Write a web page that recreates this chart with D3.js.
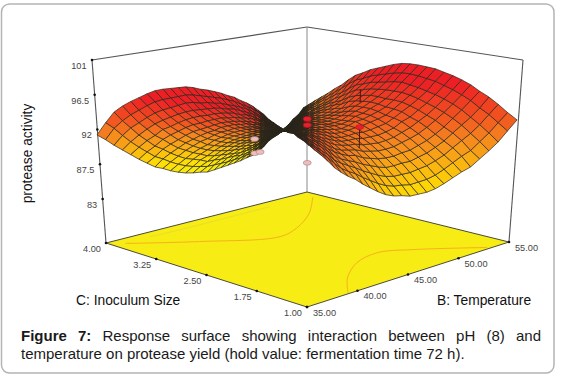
<!DOCTYPE html>
<html>
<head>
<meta charset="utf-8">
<script src="https://cdn.jsdelivr.net/npm/d3@7"></script>
<style>
  html, body { margin: 0; padding: 0; background: #fff; }
  svg { display: block; font-family: "Liberation Sans", Arial, sans-serif; }
</style>
</head>
<body>
<svg id="chart" width="561" height="375"></svg>
<script>
// Axis ticks
var zTicks = [83, 87.5, 92, 96.5, 101];
var zTickLabels = ['83', '87.5', '92', '96.5', '101'];
var tempTicks = [35, 40, 45, 50, 55];
var tempTickLabels = ['35.00', '40.00', '45.00', '50.00', '55.00'];
var sizeTicks = [1, 1.75, 2.5, 3.25, 4];
var sizeTickLabels = ['1.00', '1.75', '2.50', '3.25', '4.00'];

// Protease activity on the 31x31 response grid.
// One row per line of constant (temperature step - inoculum step), from -30 to 30.
// Each row runs from the front edge of the grid to the back edge.
var surfaceZ = [
  [91.3],
  [93.1,90.5],
  [94.7,92.2,89.6],
  [95.7,93.4,91.1,88.8],
  [96.5,94.4,92.3,90.1,88.0],
  [97.2,95.2,93.2,91.2,89.2,87.2],
  [97.9,96.0,94.1,92.2,90.3,88.4,86.5],
  [98.5,96.7,94.9,93.1,91.2,89.4,87.6,85.8],
  [98.9,97.2,95.5,93.8,92.2,90.5,88.8,87.1,85.4],
  [99.2,97.6,96.0,94.4,92.8,91.3,89.7,88.1,86.5,84.9],
  [99.5,98.0,96.5,95.0,93.5,92.0,90.5,89.0,87.5,86.0,84.5],
  [99.8,98.4,97.0,95.5,94.1,92.7,91.3,89.9,88.5,87.0,85.6,84.2],
  [99.9,98.6,97.3,95.9,94.6,93.3,92.0,90.6,89.3,88.0,86.7,85.3,84.0],
  [99.9,98.7,97.4,96.2,95.0,93.7,92.5,91.3,90.1,88.8,87.6,86.4,85.1,83.9],
  [100.0,98.8,97.7,96.5,95.3,94.2,93.0,91.9,90.7,89.5,88.4,87.2,86.0,84.9,83.7],
  [100.0,98.9,97.8,96.8,95.7,94.6,93.5,92.4,91.4,90.3,89.2,88.1,87.0,86.0,84.9,83.8],
  [100.0,99.0,98.0,97.0,96.0,95.0,94.0,93.0,92.0,90.9,89.9,88.9,87.9,86.9,85.9,84.9,83.9],
  [99.9,99.0,98.0,97.1,96.2,95.2,94.3,93.4,92.4,91.5,90.6,89.6,88.7,87.7,86.8,85.9,84.9,84.0],
  [99.9,99.0,98.1,97.3,96.4,95.5,94.6,93.8,92.9,92.0,91.1,90.2,89.4,88.5,87.6,86.7,85.9,85.0,84.1],
  [99.7,98.9,98.1,97.3,96.4,95.6,94.8,94.0,93.2,92.4,91.5,90.7,89.9,89.1,88.3,87.5,86.6,85.8,85.0,84.2],
  [99.6,98.8,98.1,97.3,96.6,95.8,95.0,94.3,93.5,92.8,92.0,91.2,90.5,89.7,89.0,88.2,87.4,86.7,85.9,85.2,84.4],
  [99.4,98.7,98.0,97.3,96.6,95.9,95.1,94.4,93.7,93.0,92.3,91.6,90.9,90.2,89.5,88.8,88.0,87.3,86.6,85.9,85.2,84.5],
  [99.1,98.5,97.8,97.2,96.5,95.9,95.2,94.6,93.9,93.3,92.6,92.0,91.3,90.6,90.0,89.3,88.7,88.0,87.4,86.7,86.1,85.4,84.8],
  [98.8,98.2,97.6,97.0,96.5,95.9,95.3,94.7,94.1,93.5,92.9,92.3,91.8,91.2,90.6,90.0,89.4,88.8,88.2,87.6,87.1,86.5,85.9,85.3],
  [98.4,97.9,97.4,96.8,96.3,95.8,95.3,94.8,94.2,93.7,93.2,92.7,92.2,91.6,91.1,90.6,90.1,89.5,89.0,88.5,88.0,87.5,86.9,86.4,85.9],
  [98.2,97.7,97.2,96.8,96.3,95.8,95.3,94.8,94.4,93.9,93.4,92.9,92.4,92.0,91.5,91.0,90.5,90.0,89.6,89.1,88.6,88.1,87.6,87.2,86.7,86.2],
  [98.0,97.6,97.1,96.7,96.2,95.8,95.3,94.9,94.4,94.0,93.5,93.1,92.6,92.2,91.8,91.3,90.9,90.4,90.0,89.5,89.1,88.6,88.2,87.7,87.3,86.8,86.4],
  [97.9,97.5,97.1,96.6,96.2,95.8,95.4,95.0,94.6,94.1,93.7,93.3,92.9,92.5,92.0,91.6,91.2,90.8,90.4,90.0,89.5,89.1,88.7,88.3,87.9,87.4,87.0,86.6],
  [97.9,97.5,97.1,96.7,96.3,95.9,95.5,95.1,94.7,94.3,93.9,93.5,93.1,92.7,92.3,91.8,91.4,91.0,90.6,90.2,89.8,89.4,89.0,88.6,88.2,87.8,87.4,87.0,86.6],
  [98.0,97.6,97.2,96.8,96.4,96.1,95.7,95.3,94.9,94.5,94.1,93.7,93.3,92.9,92.5,92.2,91.8,91.4,91.0,90.6,90.2,89.8,89.4,89.0,88.6,88.3,87.9,87.5,87.1,86.7],
  [98.0,97.6,97.3,96.9,96.5,96.2,95.8,95.4,95.1,94.7,94.3,94.0,93.6,93.2,92.9,92.5,92.1,91.8,91.4,91.0,90.7,90.3,89.9,89.6,89.2,88.8,88.5,88.1,87.7,87.4,87.0],
  [97.7,97.4,97.0,96.7,96.4,96.0,95.7,95.4,95.0,94.7,94.4,94.0,93.7,93.4,93.0,92.7,92.4,92.0,91.7,91.4,91.0,90.7,90.3,90.0,89.7,89.3,89.0,88.7,88.3,88.0],
  [97.0,96.7,96.4,96.1,95.8,95.5,95.2,95.0,94.7,94.4,94.1,93.8,93.5,93.2,92.9,92.6,92.3,92.0,91.7,91.4,91.1,90.8,90.6,90.3,90.0,89.7,89.4,89.1,88.8],
  [96.4,96.2,95.9,95.7,95.5,95.2,95.0,94.7,94.5,94.3,94.0,93.8,93.6,93.3,93.1,92.8,92.6,92.4,92.1,91.9,91.7,91.4,91.2,90.9,90.7,90.5,90.2,90.0],
  [95.6,95.4,95.2,95.0,94.8,94.7,94.5,94.3,94.1,93.9,93.7,93.5,93.3,93.2,93.0,92.8,92.6,92.4,92.2,92.0,91.8,91.6,91.5,91.3,91.1,90.9,90.7],
  [94.8,94.7,94.5,94.4,94.3,94.1,94.0,93.8,93.7,93.6,93.4,93.3,93.2,93.0,92.9,92.8,92.6,92.5,92.4,92.2,92.1,91.9,91.8,91.7,91.5,91.4],
  [94.0,93.9,93.8,93.8,93.7,93.6,93.5,93.4,93.4,93.3,93.2,93.1,93.1,93.0,92.9,92.8,92.7,92.7,92.6,92.5,92.4,92.3,92.3,92.2,92.1],
  [93.1,93.1,93.1,93.1,93.0,93.0,93.0,93.0,93.0,93.0,93.0,93.0,92.9,92.9,92.9,92.9,92.9,92.9,92.9,92.9,92.8,92.8,92.8,92.8],
  [92.1,92.2,92.2,92.3,92.4,92.4,92.5,92.6,92.6,92.7,92.8,92.9,92.9,93.0,93.1,93.1,93.2,93.3,93.3,93.4,93.5,93.5,93.6],
  [91.3,91.4,91.6,91.7,91.9,92.0,92.2,92.3,92.4,92.6,92.7,92.9,93.0,93.2,93.3,93.4,93.6,93.7,93.9,94.0,94.2,94.3],
  [90.6,90.8,91.1,91.3,91.5,91.8,92.0,92.2,92.4,92.7,92.9,93.1,93.4,93.6,93.8,94.1,94.3,94.5,94.7,95.0,95.2],
  [90.0,90.3,90.6,90.9,91.3,91.6,91.9,92.2,92.5,92.8,93.2,93.5,93.8,94.1,94.4,94.7,95.1,95.4,95.7,96.0],
  [89.2,89.6,90.0,90.4,90.8,91.2,91.6,92.0,92.4,92.9,93.3,93.7,94.1,94.5,94.9,95.3,95.7,96.1,96.5],
  [88.5,89.0,89.5,90.0,90.5,91.0,91.5,92.0,92.5,93.1,93.6,94.1,94.6,95.1,95.6,96.1,96.6,97.1],
  [87.8,88.4,89.0,89.6,90.2,90.8,91.4,92.0,92.7,93.3,93.9,94.5,95.1,95.7,96.3,96.9,97.5],
  [87.2,87.9,88.6,89.3,90.1,90.8,91.5,92.2,92.9,93.6,94.3,95.0,95.8,96.5,97.2,97.9],
  [86.8,87.6,88.4,89.3,90.1,90.9,91.7,92.5,93.4,94.2,95.0,95.8,96.7,97.5,98.3],
  [86.6,87.5,88.4,89.4,90.3,91.2,92.1,93.1,94.0,94.9,95.8,96.8,97.7,98.6],
  [86.3,87.3,88.4,89.4,90.4,91.5,92.5,93.5,94.6,95.6,96.6,97.7,98.7],
  [86.3,87.4,88.6,89.7,90.8,91.9,93.1,94.2,95.3,96.4,97.6,98.7],
  [86.3,87.5,88.8,90.0,91.2,92.5,93.7,94.9,96.1,97.4,98.6],
  [86.5,87.8,89.2,90.5,91.8,93.2,94.5,95.8,97.2,98.5],
  [86.9,88.3,89.7,91.1,92.5,94.0,95.4,96.8,98.2],
  [87.4,88.9,90.4,91.9,93.4,94.9,96.4,97.9],
  [87.9,89.5,91.1,92.7,94.3,95.9,97.5],
  [88.3,90.0,91.8,93.5,95.3,97.0],
  [89.1,90.9,92.7,94.5,96.3],
  [89.9,91.8,93.8,95.7],
  [90.8,92.9,94.9],
  [92.0,94.0],
  [93.2]
];

// Design points: temperature, inoculum size, actual and predicted activity
var pointTemp = [40, 40, 40.5, 45, 45, 45, 50, 50];
var pointSize = [2.5, 2.5, 2.5, 2.5, 2.5, 2.5, 2.5, 2.5];
var pointActual = [92.7, 90.9, 90.9, 93.8, 93.0, 88.1, 91.2, 96.2];
var pointPredicted = [92.7, 90.9, 90.9, 93.8, 93.0, 88.1, 88.4, 94.5];
var pointAbove = [false, false, false, true, true, false, true, null];

// Contours on the floor, as [temperature, inoculum size]
var contourA = [[36, 3.86], [40.3, 3.4], [45.3, 2.95], [47.7, 3.06], [51, 3.37], [54.3, 3.81]];
var contourB = [[53.1, 1.04], [49.4, 1.59], [47.2, 1.79], [44.5, 1.69], [41.6, 1.39], [39.2, 1.02]];
var contourC = [[38.5, 3.87], [41.7, 3.85], [46.6, 3.85], [50.3, 3.85]];

var colorStops = [83.5, 86.5, 91.3, 93.2, 97];
var colorRange = ['#f4f014', '#fedc04', '#f5861f', '#f25a1f', '#ee1f24'];

var svg = d3.select('#chart');

var gridSteps = 30;
var foldStep = -2;
var foldX = 283;

// Box corners on screen: x and y for front, right, left, back
var floorCorners = { front: [307, 307], right: [509, 242], left: [106, 243], back: [307, 192] };
var topCorners = { front: [307, 107], right: [523, 60], left: [92, 60], back: [307, 27] };

var tempScale = d3.scaleLinear().domain([35, 55]).range([0, 1]);
var sizeScale = d3.scaleLinear().domain([1, 4]).range([0, 1]);
var zScale = d3.scaleLinear().domain([77.3, 101]).range([0, 1]);
var color = d3.scaleLinear().domain(colorStops).range(colorRange).clamp(true);

// The surface bunches up toward the fold in the middle
var rightX = d3.scalePow().exponent(1.3).domain([0, 32]).range([0, 234]);
var leftX = d3.scalePow().exponent(1.3).domain([0, 28]).range([0, 186]);

// Mesh lines merge into black at the fold
var meshWidth = d3.scaleLinear().domain([0, 8]).range([1.7, 0.7]).clamp(true);

function bilinear(corners, u, v, axis) {
    return corners.front[axis] * (1 - u) * (1 - v) + corners.right[axis] * u * (1 - v) +
        corners.left[axis] * (1 - u) * v + corners.back[axis] * u * v;
}

function project(u, v, z) {
    var t = zScale(z);
    return [
        bilinear(floorCorners, u, v, 0) * (1 - t) + bilinear(topCorners, u, v, 0) * t,
        bilinear(floorCorners, u, v, 1) * (1 - t) + bilinear(topCorners, u, v, 1) * t
    ];
}

function nodeZ(i, j) {
    return surfaceZ[i - j + gridSteps][Math.min(i, j)];
}

function nodePoint(i, j) {
    var step = i - j - foldStep;
    var x = step >= 0 ? foldX + rightX(step) : foldX - leftX(-step);
    return [x, project(i / gridSteps, j / gridSteps, nodeZ(i, j))[1]];
}

var line = d3.line();
var zFloor = zScale.domain()[0];
var zTop = zScale.domain()[1];

// Card
svg.append('rect')
    .attr('x', 1.5)
    .attr('y', 4)
    .attr('width', 552.5)
    .attr('height', 369)
    .attr('rx', 8)
    .attr('fill', '#fff')
    .attr('stroke', '#b4b4b4')
    .attr('stroke-width', 1.5);

// Back walls
var frameLines = [
    [project(0, 1, zTop), project(1, 1, zTop)],
    [project(1, 1, zTop), project(1, 0, zTop)],
    [project(0, 1, zFloor), project(0, 1, zTop)],
    [project(1, 0, zFloor), project(1, 0, zTop)]
];
svg.selectAll('.frame')
    .data(frameLines)
    .enter()
    .append('path')
    .attr('class', 'frame')
    .attr('d', line)
    .attr('fill', 'none')
    .attr('stroke', '#555')
    .attr('stroke-width', 1.1);

svg.append('path')
    .attr('d', line([project(1, 1, zFloor), project(1, 1, zTop)]))
    .attr('stroke', '#8a8a8a')
    .attr('stroke-width', 1);

// Floor with the contours
svg.append('path')
    .attr('d', line([project(0, 0, zFloor), project(1, 0, zFloor), project(1, 1, zFloor), project(0, 1, zFloor)]) + 'Z')
    .attr('fill', '#f7ec13')
    .attr('stroke', '#4a4a3a')
    .attr('stroke-width', 1);

var contourLine = d3.line()
    .x(function(d) { return project(tempScale(d[0]), sizeScale(d[1]), zFloor)[0]; })
    .y(function(d) { return project(tempScale(d[0]), sizeScale(d[1]), zFloor)[1]; })
    .curve(d3.curveCatmullRom);

svg.selectAll('.contour')
    .data([contourA, contourB, contourC])
    .enter()
    .append('path')
    .attr('class', 'contour')
    .attr('d', contourLine)
    .attr('fill', 'none')
    .attr('stroke', function(d, i) { return i === 2 ? '#e6df2a' : '#f6b21c'; })
    .attr('stroke-width', 1);

// Surface cells
var cells = [];
d3.range(gridSteps).forEach(function(i) {
    d3.range(gridSteps).forEach(function(j) {
        cells.push({
            corners: [nodePoint(i, j), nodePoint(i + 1, j), nodePoint(i + 1, j + 1), nodePoint(i, j + 1)],
            z: (nodeZ(i, j) + nodeZ(i + 1, j) + nodeZ(i + 1, j + 1) + nodeZ(i, j + 1)) / 4,
            fold: Math.abs(i - j - foldStep)
        });
    });
});

svg.selectAll('.cell')
    .data(cells)
    .enter()
    .append('path')
    .attr('class', 'cell')
    .attr('d', function(d) { return line(d.corners) + 'Z'; })
    .attr('fill', function(d) { return color(d.z); })
    .attr('stroke', '#2a261c')
    .attr('stroke-width', function(d) { return meshWidth(d.fold); });

// Design points and their residual lines
var points = pointTemp.map(function(t, i) {
    return {
        at: project(tempScale(t), sizeScale(pointSize[i]), pointActual[i]),
        to: project(tempScale(t), sizeScale(pointSize[i]), pointPredicted[i]),
        above: pointAbove[i]
    };
});

svg.selectAll('.residual')
    .data(points)
    .enter()
    .append('path')
    .attr('class', 'residual')
    .attr('d', function(d) { return line([d.at, d.to]); })
    .attr('stroke', '#3a1010')
    .attr('stroke-width', 0.9);

svg.selectAll('.point')
    .data(points.filter(function(d) { return d.above !== null; }))
    .enter()
    .append('ellipse')
    .attr('class', 'point')
    .attr('cx', function(d) { return d.at[0]; })
    .attr('cy', function(d) { return d.at[1]; })
    .attr('rx', 4)
    .attr('ry', 2.4)
    .attr('fill', function(d) { return d.above ? '#e8202c' : '#f3bcbc'; })
    .attr('stroke', function(d) { return d.above ? '#c01020' : '#a08080'; })
    .attr('stroke-width', 0.6);

// Ticks: small dots on the edges, labels just outside
function addTicks(values, labels, place, dx, dy) {
    values.forEach(function(v, i) {
        var p = place(v);
        svg.append('circle')
            .attr('cx', p[0])
            .attr('cy', p[1])
            .attr('r', 1.3)
            .attr('fill', '#111');
        svg.append('text')
            .attr('x', p[0] + dx)
            .attr('y', p[1] + dy)
            .attr('text-anchor', dx < 0 && values === zTicks ? 'end' : 'middle')
            .attr('font-size', 9.2)
            .attr('fill', '#444')
            .text(labels[i]);
    });
}

addTicks(zTicks, zTickLabels, function(v) { return project(0, 1, v); }, -5.5, 9);
addTicks(sizeTicks, sizeTickLabels, function(v) { return project(0, sizeScale(v), zFloor); }, -14, 9);
addTicks(tempTicks, tempTickLabels, function(v) { return project(tempScale(v), 0, zFloor); }, 17.5, 8.5);

// Axis titles
svg.append('text')
    .attr('transform', 'translate(32,153.5) rotate(-90)')
    .attr('text-anchor', 'middle')
    .attr('font-size', 13.8)
    .attr('fill', '#111')
    .text('protease activity');

svg.append('text')
    .attr('x', 76)
    .attr('y', 305)
    .attr('font-size', 13.8)
    .attr('fill', '#111')
    .text('C: Inoculum Size');

svg.append('text')
    .attr('x', 437)
    .attr('y', 305)
    .attr('font-size', 13.8)
    .attr('fill', '#111')
    .text('B: Temperature');

// Caption, first line justified
var captionFirst = svg.append('text')
    .attr('x', 21)
    .attr('y', 341)
    .attr('font-size', 15)
    .attr('fill', '#1a1a1a');
captionFirst.append('tspan').attr('font-weight', 'bold').text('Figure 7:');
captionFirst.append('tspan').text(' Response surface showing interaction between pH (8) and');
var captionWidth = captionFirst.node().getComputedTextLength();
captionFirst.attr('word-spacing', (513 - captionWidth) / 8);

svg.append('text')
    .attr('x', 21)
    .attr('y', 359)
    .attr('font-size', 15)
    .attr('fill', '#1a1a1a')
    .text('temperature on protease yield (hold value: fermentation time 72 h).');
</script>
</body>
</html>
